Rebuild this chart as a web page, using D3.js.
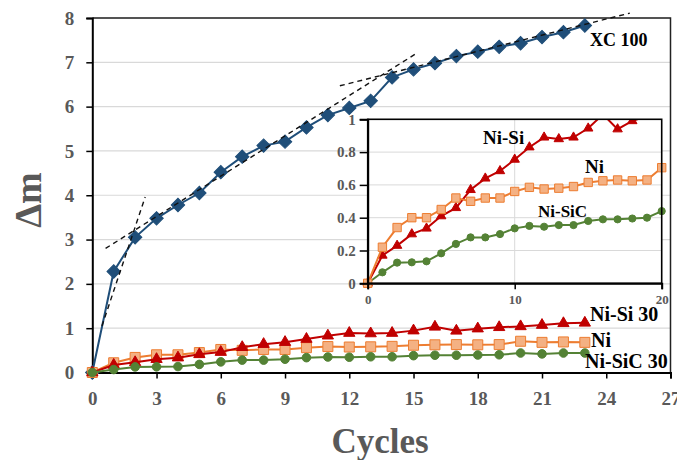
<!DOCTYPE html>
<html>
<head>
<meta charset="utf-8">
<script src="https://cdn.jsdelivr.net/npm/d3@7"></script>
<style>
body { margin: 0; background: #fff; }
svg { display: block; font-family: "Liberation Serif", "Times New Roman", serif; font-weight: bold; }
</style>
</head>
<body>
<svg id="svgCanvas" width="677" height="460"></svg>
<script>
var cycles = [0, 1, 2, 3, 4, 5, 6, 7, 8, 9, 10, 11, 12, 13, 14, 15, 16, 17, 18, 19, 20, 21, 22, 23];
var xc100 = [0, 2.28, 3.05, 3.48, 3.78, 4.05, 4.52, 4.87, 5.12, 5.21, 5.53, 5.81, 5.97, 6.13, 6.66, 6.84, 6.98, 7.14, 7.24, 7.35, 7.43, 7.57, 7.68, 7.83];
var niSi = [0, 0.17, 0.23, 0.30, 0.335, 0.41, 0.46, 0.57, 0.64, 0.685, 0.755, 0.83, 0.89, 0.88, 0.89, 0.945, 1.03, 0.94, 0.99, 1.02, 1.04, 1.07, 1.11, 1.12];
var ni = [0, 0.22, 0.34, 0.40, 0.40, 0.45, 0.52, 0.50, 0.52, 0.52, 0.56, 0.585, 0.575, 0.58, 0.59, 0.615, 0.625, 0.63, 0.625, 0.63, 0.705, 0.68, 0.69, 0.68];
var niSiC = [0, 0.067, 0.126, 0.128, 0.134, 0.183, 0.24, 0.28, 0.28, 0.30, 0.335, 0.35, 0.345, 0.355, 0.355, 0.38, 0.39, 0.39, 0.395, 0.40, 0.44, 0.42, 0.44, 0.44];

// dashed tangent lines on XC 100
var trendA = [[0.45, 1.05], [2.47, 3.96]];
var trendB = [[0.62, 2.80], [15.1, 7.19]];
var trendC = [[11.56, 6.47], [25.1, 8.11]];

var xTicks = [0, 3, 6, 9, 12, 15, 18, 21, 24, 27];
var yTicks = [0, 1, 2, 3, 4, 5, 6, 7, 8];
var insetXTicks = [0, 10, 20];
var insetYTicks = [0, 0.2, 0.4, 0.6, 0.8, 1];
var insetYLabels = ["0", "0.2", "0.4", "0.6", "0.8", "1"];
var insetMax = 20;

var svg = d3.select("#svgCanvas");
var x = d3.scaleLinear().domain([0, 27]).range([92.3, 670.5]);
var y = d3.scaleLinear().domain([0, 8]).range([372.5, 18]);
var ix = d3.scaleLinear().domain([0, 20]).range([367.7, 661.7]);
var iy = d3.scaleLinear().domain([0, 1]).range([283.3, 119.3]);

var tickColor = "#595959";

// main grid
svg.append("g").selectAll("line").data(yTicks.slice(1)).enter().append("line")
	.attr("x1", x(0)).attr("x2", x(27))
	.attr("y1", function(d) { return y(d); }).attr("y2", function(d) { return y(d); })
	.attr("stroke", "#d9d9d9").attr("stroke-width", 1.2);

// frame top/right
svg.append("path")
	.attr("d", "M" + x(0) + "," + y(8) + "H" + x(27) + "V" + y(0))
	.attr("fill", "none").attr("stroke", "#222").attr("stroke-width", 1.5);

var yAxis = svg.append("g").attr("transform", "translate(" + x(0) + ",0)")
	.call(d3.axisLeft(y).tickValues(yTicks).tickSize(6).tickPadding(12).tickFormat(d3.format("d")));
var xAxis = svg.append("g").attr("transform", "translate(0," + y(0) + ")")
	.call(d3.axisBottom(x).tickValues(xTicks).tickSize(6).tickPadding(13).tickFormat(d3.format("d")));
[xAxis, yAxis].forEach(function(a) {
	a.select(".domain").attr("stroke", "#000").attr("stroke-width", 2);
	a.selectAll(".tick line").attr("stroke", "#000").attr("stroke-width", 1.5);
	a.selectAll("text").attr("font-family", "Liberation Serif").attr("font-weight", "bold")
		.attr("font-size", 19).attr("fill", tickColor);
});

svg.append("text").attr("x", 380).attr("y", 453).attr("text-anchor", "middle")
	.attr("font-size", 35).attr("fill", tickColor).text("Cycles");
svg.append("text").attr("transform", "translate(41,200) rotate(-90)").attr("text-anchor", "middle")
	.attr("font-size", 38).attr("fill", tickColor).text("Δm");

function drawSeries(g, xs, ys, vals, n, style) {
	var pts = [];
	for (var i = 0; i < n; i++) pts.push([xs(cycles[i]), ys(vals[i])]);
	g.append("path").attr("d", d3.line()(pts))
		.attr("fill", "none").attr("stroke", style.line).attr("stroke-width", style.width);
	g.selectAll(null).data(pts).enter().append("path")
		.attr("d", d3.symbol().type(style.symbol).size(style.size))
		.attr("transform", function(p) { return "translate(" + p[0] + "," + p[1] + ") rotate(" + (style.rot || 0) + ")"; })
		.attr("fill", style.fill).attr("stroke", style.stroke).attr("stroke-width", 1);
}

function styles(k) {
	return {
		xc: { line: "#1f4e79", width: 2, symbol: d3.symbolSquare, size: 90 * k, rot: 45, fill: "#1f4e79", stroke: "#1f4e79" },
		ni: { line: "#ed7d31", width: 2, symbol: d3.symbolSquare, size: 100 * k, fill: "#f4b183", stroke: "#ed7d31" },
		niSi: { line: "#c00000", width: 2, symbol: d3.symbolTriangle, size: 55 * k, fill: "#c00000", stroke: "#c00000" },
		niSiC: { line: "#548235", width: 2, symbol: d3.symbolCircle, size: 58 * k, fill: "#548235", stroke: "#548235" }
	};
}

var mainG = svg.append("g");
var st = styles(1);
drawSeries(mainG, x, y, xc100, cycles.length, st.xc);

// trend lines
[trendA, trendB, trendC].forEach(function(t) {
	svg.append("line")
		.attr("x1", x(t[0][0])).attr("y1", y(t[0][1]))
		.attr("x2", x(t[1][0])).attr("y2", y(t[1][1]))
		.attr("stroke", "#111").attr("stroke-width", 1.4).attr("stroke-dasharray", "5,4");
});

var lowG = svg.append("g");
drawSeries(lowG, x, y, ni, cycles.length, st.ni);
drawSeries(lowG, x, y, niSi, cycles.length, st.niSi);
drawSeries(lowG, x, y, niSiC, cycles.length, st.niSiC);

// labels in main
svg.append("text").attr("x", 590).attr("y", 46).attr("font-size", 18).attr("fill", "#000").text("XC 100");
svg.append("text").attr("x", 590).attr("y", 321).attr("font-size", 20).attr("fill", "#000").text("Ni-Si 30");
svg.append("text").attr("x", 591).attr("y", 347).attr("font-size", 20).attr("fill", "#000").text("Ni");
svg.append("text").attr("x", 585).attr("y", 368).attr("font-size", 20).attr("fill", "#000").text("Ni-SiC 30");

// inset
var inset = svg.append("g");
inset.append("rect").attr("x", ix(0)).attr("y", iy(1))
	.attr("width", ix(20) - ix(0)).attr("height", iy(0) - iy(1)).attr("fill", "#fff");
inset.append("g").selectAll("line").data(insetYTicks.slice(1, 5)).enter().append("line")
	.attr("x1", ix(0)).attr("x2", ix(20))
	.attr("y1", function(d) { return iy(d); }).attr("y2", function(d) { return iy(d); })
	.attr("stroke", "#d9d9d9").attr("stroke-width", 1);
inset.append("line").attr("x1", ix(10)).attr("x2", ix(10)).attr("y1", iy(0)).attr("y2", iy(1))
	.attr("stroke", "#d9d9d9").attr("stroke-width", 1);

svg.append("clipPath").attr("id", "insetClip").append("rect")
	.attr("x", ix(0) - 8).attr("y", iy(1)).attr("width", ix(20) - ix(0) + 16).attr("height", iy(0) - iy(1) + 8);
var insetData = inset.append("g").attr("clip-path", "url(#insetClip)");
var ist = styles(0.7);
drawSeries(insetData, ix, iy, niSiC, insetMax + 1, ist.niSiC);
drawSeries(insetData, ix, iy, niSi, insetMax + 1, ist.niSi);
drawSeries(insetData, ix, iy, ni, insetMax + 1, ist.ni);

inset.append("rect").attr("x", ix(0)).attr("y", iy(1))
	.attr("width", ix(20) - ix(0)).attr("height", iy(0) - iy(1))
	.attr("fill", "none").attr("stroke", "#000").attr("stroke-width", 1.6);

var iyAxis = inset.append("g").attr("transform", "translate(" + ix(0) + ",0)")
	.call(d3.axisLeft(iy).tickValues(insetYTicks).tickSize(8).tickPadding(4)
		.tickFormat(function(d, i) { return insetYLabels[i]; }));
var ixAxis = inset.append("g").attr("transform", "translate(0," + iy(0) + ")")
	.call(d3.axisBottom(ix).tickValues(insetXTicks).tickSize(6).tickPadding(5).tickFormat(d3.format("d")));
[iyAxis, ixAxis].forEach(function(a) {
	a.select(".domain").attr("stroke", "#000").attr("stroke-width", 2);
	a.selectAll(".tick line").attr("stroke", "#000").attr("stroke-width", 1.5);
	a.selectAll("text").attr("font-family", "Liberation Serif").attr("font-weight", "bold")
		.attr("fill", tickColor);
});
iyAxis.selectAll("text").attr("font-size", 15);
ixAxis.selectAll("text").attr("font-size", 13);

inset.append("text").attr("x", 483).attr("y", 144).attr("font-size", 19).attr("fill", "#000").text("Ni-Si");
inset.append("text").attr("x", 585).attr("y", 173).attr("font-size", 19).attr("fill", "#000").text("Ni");
inset.append("text").attr("x", 538).attr("y", 217).attr("font-size", 17).attr("fill", "#000").text("Ni-SiC");
</script>
</body>
</html>
